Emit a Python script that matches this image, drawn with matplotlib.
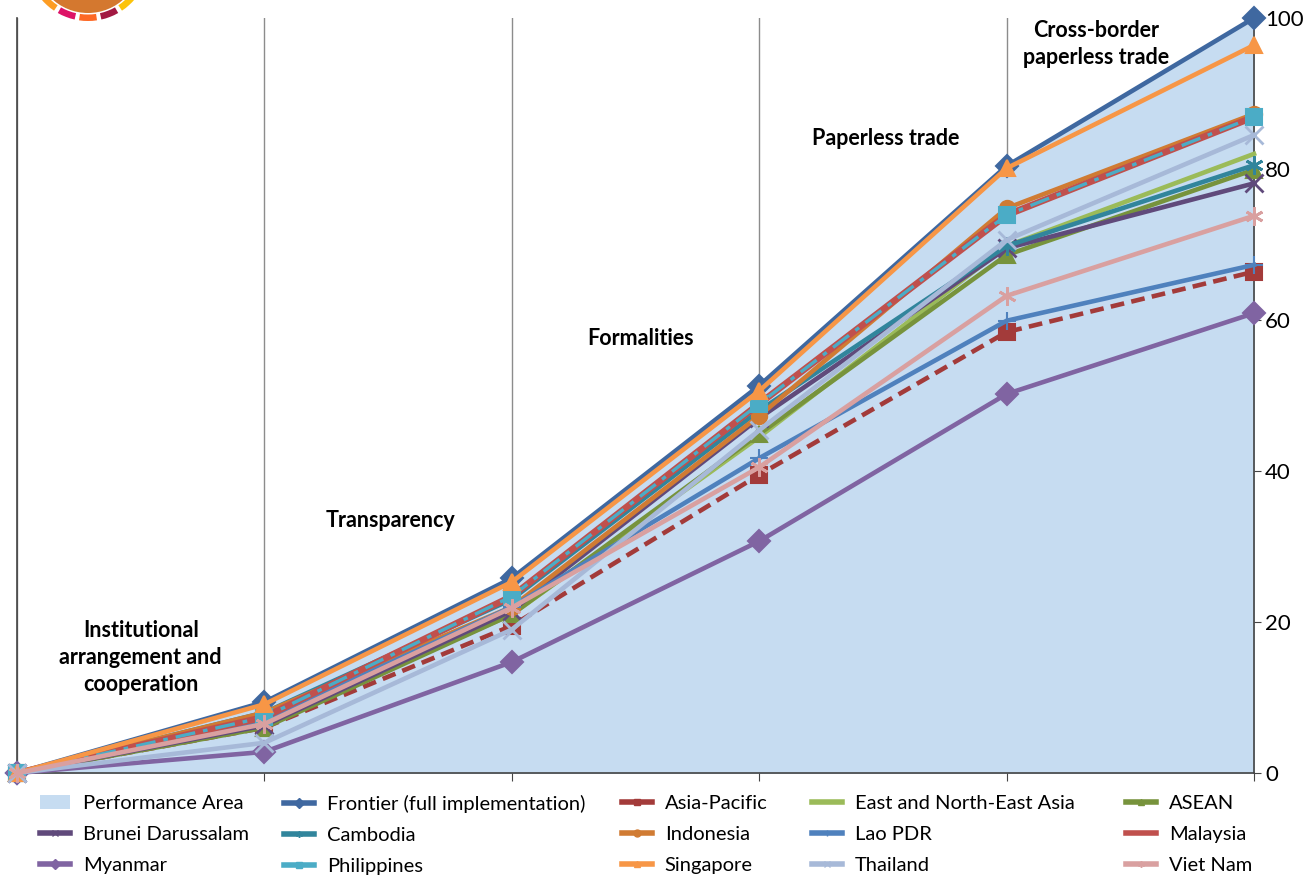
import matplotlib.pyplot as plt
from matplotlib.patches import Wedge, Circle
from matplotlib.lines import Line2D
from matplotlib.patches import Patch

plt.rcParams['font.family'] = ['Lato', 'DejaVu Sans']

# ===================== Données =====================
stages = ['Institutional\narrangement and\ncooperation', 'Transparency', 'Formalities',
          'Paperless trade', 'Cross-border\npaperless trade']
x = [0, 1, 2, 3, 4, 5]

frontier = [0, 9.4, 25.8, 51.3, 80.4, 100]
asia_pacific = [0, 6.0, 19.5, 39.5, 58.4, 66.4]
enea = [0, 6.5, 21.0, 44.5, 69.8, 82.0]
asean = [0, 6.0, 21.0, 44.9, 68.6, 79.9]
brunei = [0, 6.3, 21.5, 47.0, 69.5, 78.1]
cambodia = [0, 8.0, 23.0, 48.0, 69.8, 80.5]
indonesia = [0, 8.0, 22.0, 47.3, 74.8, 87.3]
lao = [0, 7.0, 22.0, 41.7, 59.9, 67.3]
malaysia = [0, 7.4, 23.4, 48.9, 73.9, 86.9]
myanmar = [0, 2.8, 14.7, 30.7, 50.2, 60.9]
philippines = [0, 7.4, 23.4, 48.9, 73.9, 86.9]
singapore = [0, 9.1, 25.3, 50.6, 80.1, 96.4]
thailand = [0, 4.0, 19.0, 45.4, 70.6, 84.5]
viet_nam = [0, 6.5, 21.9, 40.5, 63.2, 73.8]

# (nom, valeurs, couleur, marqueur, style de trait, épaisseur)
series = [
    ('Frontier (full implementation)', frontier, '#3F68A0', 'D', '-', 3.3),
    ('Asia-Pacific', asia_pacific, '#A33B3A', 's', (0, (3, 1.6)), 3.3),
    ('East and North-East Asia', enea, '#9BBB59', '', '-', 3.3),
    ('ASEAN', asean, '#77933C', '^', '-', 3.3),
    ('Brunei Darussalam', brunei, '#604A7B', 'x', '-', 3.3),
    ('Cambodia', cambodia, '#31859C', (6, 2, 0), '-', 3.3),
    ('Indonesia', indonesia, '#D07B33', 'o', '-', 3.3),
    ('Lao PDR', lao, '#4F81BD', '+', '-', 3.3),
    ('Malaysia', malaysia, '#C0504D', '', '-', 4.8),
    ('Myanmar', myanmar, '#8064A2', 'D', '-', 3.3),
    ('Philippines', philippines, '#4BACC6', 's', (0, (6, 2.4, 1.4, 2.4)), 2.4),
    ('Singapore', singapore, '#F79646', '^', '-', 3.3),
    ('Thailand', thailand, '#A7B9D8', 'x', '-', 3.3),
    ('Viet Nam', viet_nam, '#D9A0A0', (6, 2, 0), '-', 3.3),
]

fig = plt.figure(figsize=(13.16, 8.77), dpi=100)
ax = fig.add_axes([17 / 1316, 1 - 773 / 877, (1254 - 17) / 1316, (773 - 18) / 877])

# zone de performance
ax.fill_between(x, 0, frontier, color='#C6DCF1', zorder=1)

for xi in x:
    ax.axvline(xi, color='#8C8C8C', lw=1, zorder=0.5)

handles = {}
handles['Performance Area'] = Patch(facecolor='#C6DCF1', edgecolor='none')
for name, vals, col, mk, ls, lw in series:
    ms = 11 if mk in ('D', 's', '^', 'o') else 13
    mew = 2 if (mk == 'x' or isinstance(mk, tuple)) else 1.5
    ax.plot(x, vals, color=col, lw=lw, ls=ls, marker=mk if mk else None,
            ms=ms, mew=mew, mec=col, mfc=col, clip_on=False, zorder=3)
    handles[name] = Line2D([], [], color=col, lw=4, marker=mk if mk else None,
                           ms=5, mew=1, mec=col, mfc=col)

# libellés des étapes
label_pos = [(0.5, 15.3), (1.51, 33.5), (2.52, 57.6), (3.51, 84.0), (4.36, 96.6)]
for txt, (px, py) in zip(stages, label_pos):
    ax.text(px, py, txt, ha='center', va='center', fontsize=15.5, fontweight='bold',
            linespacing=1.36, zorder=4)

ax.set_xlim(0, 5)
ax.set_ylim(0, 100)
ax.set_xticks(x)
ax.set_xticklabels([])
ax.tick_params(axis='x', direction='out', length=6, color='#444444')
ax.yaxis.tick_right()
ax.set_yticks([0, 20, 40, 60, 80, 100])
ax.tick_params(axis='y', direction='out', length=5, labelsize=16, pad=3, color='#444444')
ax.spines['top'].set_visible(False)
for s in ['left', 'bottom', 'right']:
    ax.spines[s].set_color('#444444')
    ax.spines[s].set_linewidth(1.2)

# légende : une colonne par bloc
legend_cols = [['Performance Area', 'Brunei Darussalam', 'Myanmar'],
               ['Frontier (full implementation)', 'Cambodia', 'Philippines'],
               ['Asia-Pacific', 'Indonesia', 'Singapore'],
               ['East and North-East Asia', 'Lao PDR', 'Thailand'],
               ['ASEAN', 'Malaysia', 'Viet Nam']]
col_x = [40, 284, 622, 812, 1126]
for names, cx in zip(legend_cols, col_x):
    fig.legend([handles[n] for n in names], names, loc='upper left',
               bbox_to_anchor=(cx / 1316, 1 - 795 / 877), frameon=False,
               fontsize=14.5, handlelength=1.5, handletextpad=0.62,
               labelspacing=0.7, borderpad=0, borderaxespad=0)

# logo (roue ODD partielle)
lax = fig.add_axes([0, 1 - 60 / 877, 200 / 1316, 60 / 877])
lax.set_xlim(0, 200)
lax.set_ylim(60, 0)
lax.axis('off')
sdg_colors = ['#E5243B', '#DDA63A', '#4C9F38', '#C5192D', '#FF3A21', '#26BDE2',
              '#FCC30B', '#A21942', '#FD6925', '#DD1367', '#FD9D24', '#BF8B2E',
              '#3F7E44', '#0A97D9', '#56C02B', '#00689D', '#19486A']
step = 360 / 17
for k, c in enumerate(sdg_colors, start=1):
    a = 90 + (k - 9) * step
    lax.add_patch(Wedge((88, -40), 61, a - 8.5, a + 8.5, width=6.5, color=c, lw=0))
lax.add_patch(Circle((88, -40), 53, color='#D4782F', lw=0))

fig.savefig('out.png', dpi=100)
